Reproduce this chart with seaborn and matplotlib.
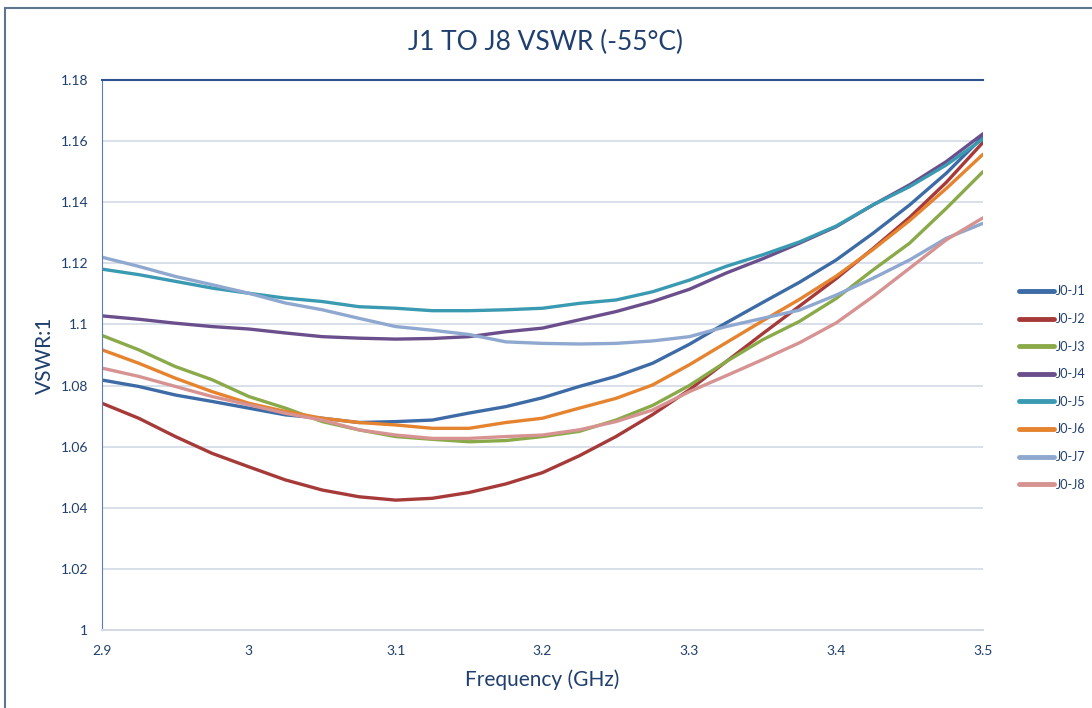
import matplotlib.pyplot as plt
import seaborn as sns
import pandas as pd
from matplotlib.patches import Rectangle

# frecuencia (GHz), paso de 0.025
freq = [2.900, 2.925, 2.950, 2.975, 3.000, 3.025, 3.050, 3.075, 3.100, 3.125,
        3.150, 3.175, 3.200, 3.225, 3.250, 3.275, 3.300, 3.325, 3.350, 3.375,
        3.400, 3.425, 3.450, 3.475, 3.500]

j1 = [1.0818, 1.0797, 1.0769, 1.0748, 1.0726, 1.0704, 1.0693, 1.0679, 1.0682, 1.0687,
      1.0710, 1.0731, 1.0760, 1.0797, 1.0830, 1.0873, 1.0935, 1.1005, 1.1072, 1.1138,
      1.1211, 1.1298, 1.1391, 1.1495, 1.1615]
j2 = [1.0742, 1.0693, 1.0633, 1.0578, 1.0534, 1.0491, 1.0458, 1.0436, 1.0425, 1.0431,
      1.0450, 1.0478, 1.0515, 1.0570, 1.0633, 1.0705, 1.0786, 1.0878, 1.0970, 1.1060,
      1.1150, 1.1248, 1.1350, 1.1465, 1.1596]
j3 = [1.0964, 1.0917, 1.0862, 1.0819, 1.0764, 1.0726, 1.0682, 1.0655, 1.0633, 1.0624,
      1.0616, 1.0620, 1.0633, 1.0650, 1.0687, 1.0735, 1.0800, 1.0878, 1.0950, 1.1010,
      1.1085, 1.1178, 1.1266, 1.1380, 1.1500]
j4 = [1.1028, 1.1017, 1.1004, 1.0993, 1.0985, 1.0972, 1.0960, 1.0955, 1.0952, 1.0954,
      1.0960, 1.0976, 1.0988, 1.1015, 1.1042, 1.1075, 1.1115, 1.1168, 1.1215, 1.1266,
      1.1320, 1.1391, 1.1457, 1.1533, 1.1624]
j5 = [1.1181, 1.1163, 1.1141, 1.1119, 1.1102, 1.1086, 1.1075, 1.1058, 1.1053, 1.1045,
      1.1045, 1.1048, 1.1053, 1.1069, 1.1080, 1.1107, 1.1145, 1.1190, 1.1228, 1.1270,
      1.1322, 1.1391, 1.1451, 1.1522, 1.1607]
j6 = [1.0917, 1.0873, 1.0824, 1.0780, 1.0742, 1.0715, 1.0693, 1.0679, 1.0671, 1.0660,
      1.0660, 1.0679, 1.0693, 1.0726, 1.0758, 1.0802, 1.0868, 1.0940, 1.1012, 1.1082,
      1.1158, 1.1245, 1.1340, 1.1445, 1.1557]
j7 = [1.1220, 1.1190, 1.1157, 1.1130, 1.1102, 1.1070, 1.1048, 1.1020, 1.0993, 1.0981,
      1.0967, 1.0943, 1.0938, 1.0936, 1.0938, 1.0946, 1.0960, 1.0993, 1.1020, 1.1047,
      1.1096, 1.1151, 1.1211, 1.1282, 1.1331]
j8 = [1.0857, 1.0830, 1.0797, 1.0764, 1.0737, 1.0709, 1.0687, 1.0655, 1.0638, 1.0627,
      1.0627, 1.0633, 1.0638, 1.0655, 1.0682, 1.0720, 1.0780, 1.0832, 1.0885, 1.0940,
      1.1005, 1.1091, 1.1184, 1.1277, 1.1349]

series = ["J0-J1", "J0-J2", "J0-J3", "J0-J4", "J0-J5", "J0-J6", "J0-J7", "J0-J8"]
colores = ["#3D6BA6", "#A63A38", "#8AAA4A", "#6A4F8C", "#3A9AB2", "#E5832F", "#8FA8CF", "#D69391"]

df = pd.concat(
    [pd.DataFrame({"freq": freq, "vswr": v, "serie": s})
     for s, v in zip(series, [j1, j2, j3, j4, j5, j6, j7, j8])],
    ignore_index=True,
)

azul = "#1F3F6E"

sns.set_style("white")
plt.rcParams["font.family"] = ["Lato", "DejaVu Sans"]

fig = plt.figure(figsize=(10.92, 7.08), dpi=100)
ax = fig.add_axes([0.0934, 0.1102, 0.8068, 0.7768])

sns.lineplot(data=df, x="freq", y="vswr", hue="serie", palette=colores,
             linewidth=2.4, ax=ax)

ax.set_xlim(2.9, 3.5)
ax.set_ylim(1.0, 1.18)
ax.set_xticks([2.9, 3.0, 3.1, 3.2, 3.3, 3.4, 3.5])
ax.set_xticklabels(["2.9", "3", "3.1", "3.2", "3.3", "3.4", "3.5"])
ax.set_yticks([1.0, 1.02, 1.04, 1.06, 1.08, 1.1, 1.12, 1.14, 1.16, 1.18])
ax.set_yticklabels(["1", "1.02", "1.04", "1.06", "1.08", "1.1", "1.12", "1.14", "1.16", "1.18"])
ax.tick_params(axis="both", length=0, labelsize=10, colors=azul)
ax.tick_params(axis="x", pad=11)
ax.tick_params(axis="y", pad=10)

ax.grid(axis="y", color="#D3DAE6", linewidth=1.2)
ax.set_axisbelow(True)
ax.spines["left"].set_color("#5B7DB0")
ax.spines["bottom"].set_color("#D3DAE6")
ax.spines["bottom"].set_linewidth(1.5)
ax.spines["top"].set_color("#2E5490")
ax.spines["top"].set_linewidth(1.5)
ax.spines["right"].set_visible(False)

ax.set_xlabel("Frequency (GHz)", fontsize=15, color=azul, labelpad=9)
ax.set_ylabel("VSWR:1", fontsize=15, color=azul, labelpad=4)
fig.text(0.5, 0.94, "J1 TO J8 VSWR (-55°C)", ha="center", va="center",
         fontsize=19, color=azul)

leg = ax.legend(loc="center left", bbox_to_anchor=(1.035, 0.44), frameon=False,
                fontsize=9, handlelength=2.8, handletextpad=0.2,
                labelspacing=1.25, borderaxespad=0)
for t in leg.get_texts():
    t.set_color(azul)
for h in leg.get_lines():
    h.set_linewidth(3.5)

# borde del área del gráfico
fig.patches.append(Rectangle((5 / 1092, -0.1), 1.2, 0.1 + 700 / 708,
                             transform=fig.transFigure, fill=False,
                             edgecolor="#5E7491", linewidth=1.5))

fig.savefig("out.png", dpi=100)
